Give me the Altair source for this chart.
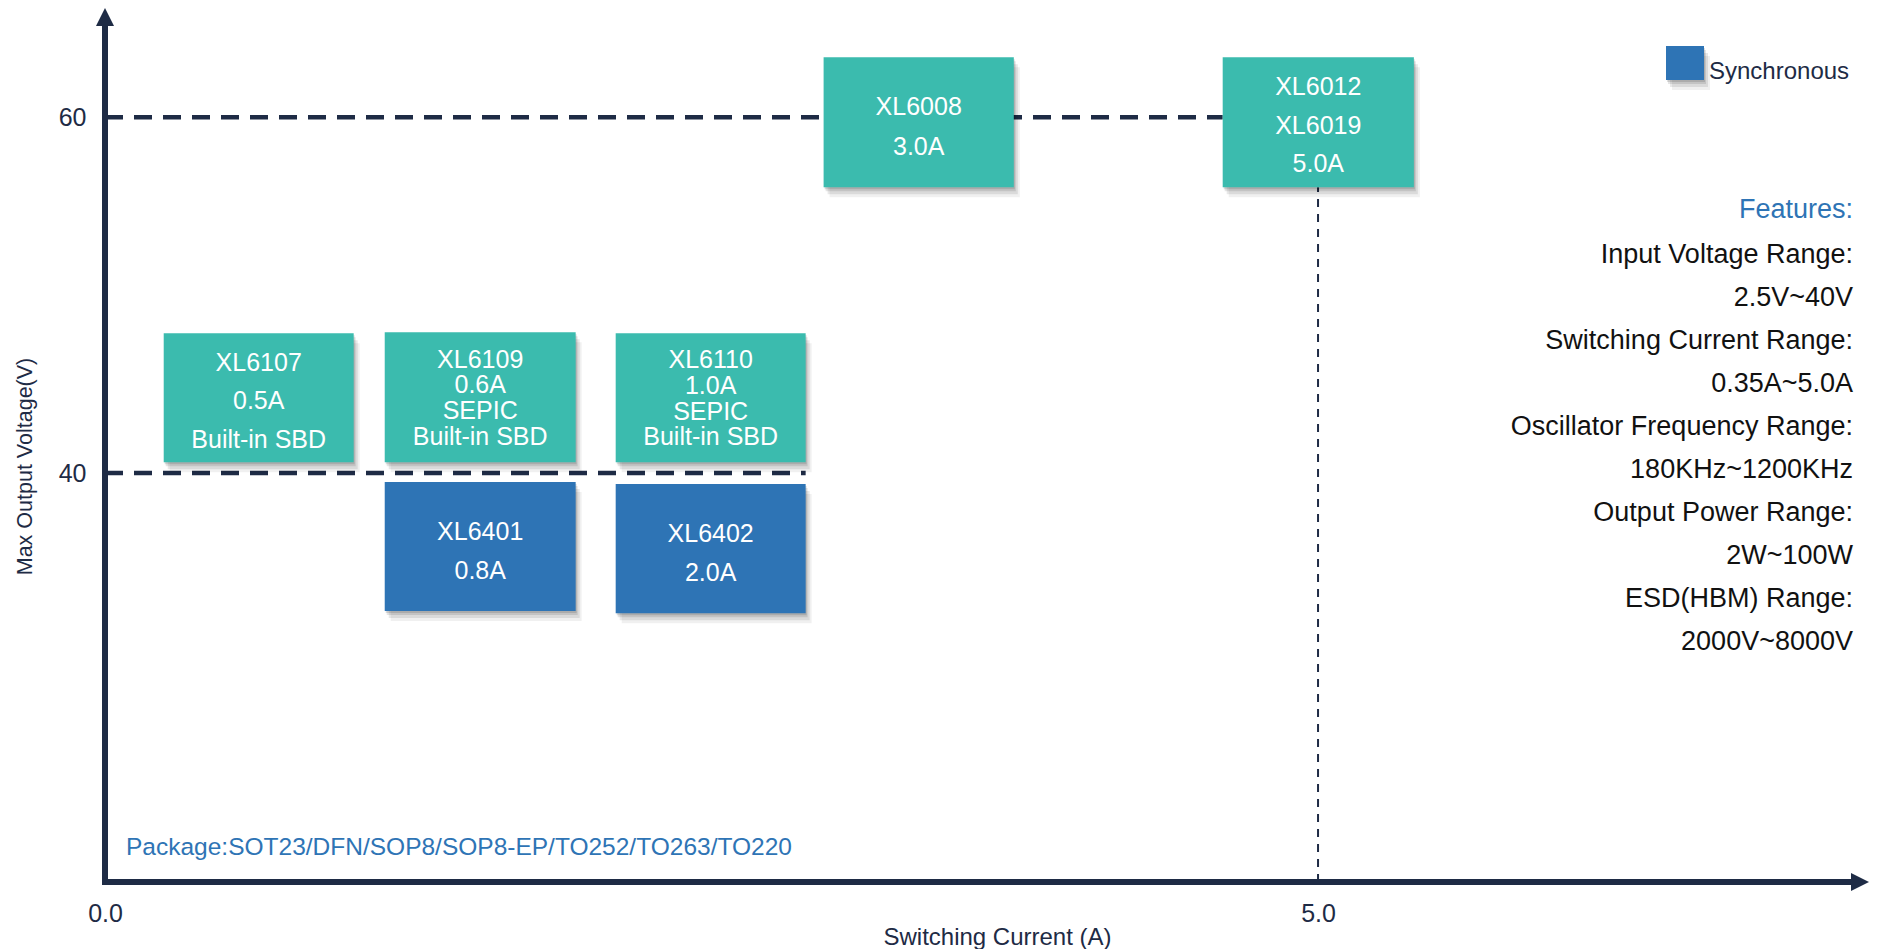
import altair as alt
import pandas as pd

FONT = "Liberation Sans"
DARK = "#1E2B45"
TEAL = "#3BBBAE"
BLUE = "#2E74B5"

# ---- data ----
chip_labels = [
    "XL6107\n0.5A\nBuilt-in SBD",
    "XL6109\n0.6A\nSEPIC\nBuilt-in SBD",
    "XL6110\n1.0A\nSEPIC\nBuilt-in SBD",
    "XL6401\n0.8A",
    "XL6402\n2.0A",
    "XL6008\n3.0A",
    "XL6012\nXL6019\n5.0A",
]
chip_kind = ["Non-synchronous", "Non-synchronous", "Non-synchronous",
             "Synchronous", "Synchronous", "Non-synchronous", "Non-synchronous"]
cur_lo = [0.242, 1.153, 2.105, 1.153, 2.105, 2.962, 4.607]
cur_hi = [1.025, 1.940, 2.888, 1.940, 2.888, 3.746, 5.395]
volt_lo = [40.61, 40.61, 40.61, 32.24, 32.12, 56.07, 56.07]
volt_hi = [47.86, 47.92, 47.86, 39.49, 39.38, 63.38, 63.38]

ref_volt = [60, 40]
ref_cur_end = [4.607, 2.888]
marker_cur = [5.0]
marker_volt_top = [56.07]

x_ticks = [0, 5]
y_ticks = [40, 60]
x_domain = [0, 7.271]
y_domain = [17, 66.15]

legend_kind = ["Synchronous"]

features_title = "Features:"
features = [
    "Input Voltage Range:", "2.5V~40V",
    "Switching Current Range:", "0.35A~5.0A",
    "Oscillator Frequency Range:", "180KHz~1200KHz",
    "Output Power Range:", "2W~100W",
    "ESD(HBM) Range:", "2000V~8000V",
]
package_note = "Package:SOT23/DFN/SOP8/SOP8-EP/TO252/TO263/TO220"

chips = pd.DataFrame({
    "label": chip_labels, "kind": chip_kind,
    "cur": cur_lo, "cur2": cur_hi, "volt": volt_lo, "volt2": volt_hi,
})
chips["nlines"] = chips["label"].str.count("\n") + 1
refs = pd.DataFrame({"volt": ref_volt, "cur": [0, 0], "cur2": ref_cur_end})
marker = pd.DataFrame({"cur": marker_cur, "volt": [y_domain[0]], "volt2": marker_volt_top})
xaxis_df = pd.DataFrame({"cur": [x_domain[0]], "cur2": [x_domain[1]], "volt": [y_domain[0]]})
yaxis_df = pd.DataFrame({"cur": [x_domain[0]], "volt": [y_domain[0]], "volt2": [y_domain[1]]})
xarrow_df = pd.DataFrame({"cur": [x_domain[1]], "volt": [y_domain[0]]})
yarrow_df = pd.DataFrame({"cur": [x_domain[0]], "volt": [y_domain[1]]})
legend_df = pd.DataFrame({"kind": legend_kind})

xs = alt.Scale(domain=x_domain, nice=False, zero=False)
ys = alt.Scale(domain=y_domain, nice=False, zero=False)
color_scale = alt.Scale(domain=["Non-synchronous", "Synchronous"], range=[TEAL, BLUE])

xaxis = alt.Axis(values=x_ticks, format=".1f", domain=False, ticks=False, grid=False,
                 labelFontSize=25, labelColor=DARK, labelFont=FONT, labelPadding=19,
                 labelFlush=False,
                 title="Switching Current (A)", titleFont=FONT, titleFontSize=24,
                 titleFontWeight="normal", titleColor=DARK, titleX=892, titleY=55,
                 titleAlign="center", titleBaseline="middle")
yaxis = alt.Axis(values=y_ticks, format="d", domain=False, ticks=False, grid=False,
                 labelFontSize=25, labelColor=DARK, labelFont=FONT, labelPadding=19,
                 labelFlush=False,
                 title="Max Output Voltage(V)", titleFont=FONT, titleFontSize=21.5,
                 titleFontWeight="normal", titleColor=DARK, titleX=-80, titleY=458,
                 titleAlign="center", titleBaseline="middle")

X = alt.X("cur:Q", scale=xs, axis=xaxis)
Y = alt.Y("volt:Q", scale=ys, axis=yaxis)

# dashed reference lines
ref_lines = alt.Chart(refs).mark_rule(color=DARK, strokeWidth=4.5, strokeDash=[18, 11]).encode(
    x=X, x2="cur2:Q", y=Y)
marker_line = alt.Chart(marker).mark_rule(color=DARK, strokeWidth=2, strokeDash=[8, 7]).encode(
    x=X, y=Y, y2="volt2:Q")

SHADOW_STEPS = [(1, 2, 0.12), (2, 4, 0.10), (4, 7, 0.09), (6, 10, 0.06)]

# shadows
shadows = []
for dx, dy, op in SHADOW_STEPS:
    shadows.append(alt.Chart(chips).mark_rect(
        color="#000000", opacity=op, xOffset=dx, x2Offset=dx, yOffset=dy, y2Offset=dy
    ).encode(x=X, x2="cur2:Q", y=Y, y2="volt2:Q"))

boxes = alt.Chart(chips).mark_rect().encode(
    x=X, x2="cur2:Q", y=Y, y2="volt2:Q",
    color=alt.Color("kind:N", scale=color_scale, legend=None),
)

# box labels, grouped by number of lines (line height / vertical centring)
TEXT_STYLE = {2: (39.5, -15), 3: (38.5, -35), 4: (25.7, -37.5)}
text_base = alt.Chart(chips).transform_calculate(
    xc="(datum.cur + datum.cur2) / 2", yc="(datum.volt + datum.volt2) / 2")
box_texts = []
for n, (lh, dyv) in TEXT_STYLE.items():
    box_texts.append(text_base.transform_filter(f"datum.nlines == {n}").mark_text(
        color="white", font=FONT, fontSize=25, lineBreak="\n", lineHeight=lh, dy=dyv,
        align="center", baseline="middle").encode(
        x=alt.X("xc:Q", scale=xs, axis=xaxis), y=alt.Y("yc:Q", scale=ys, axis=yaxis),
        text="label:N"))

# axes with arrows
x_line = alt.Chart(xaxis_df).mark_rule(color=DARK, strokeWidth=6, strokeCap="square", x2Offset=-16).encode(
    x=X, x2="cur2:Q", y=Y)
y_line = alt.Chart(yaxis_df).mark_rule(color=DARK, strokeWidth=6, strokeCap="square", y2Offset=16).encode(
    x=X, y=Y, y2="volt2:Q")
x_arrow = alt.Chart(xarrow_df).mark_point(shape="M0,0L-2,-1L-2,1Z", size=324, filled=True,
                                          color=DARK, opacity=1).encode(x=X, y=Y)
y_arrow = alt.Chart(yarrow_df).mark_point(shape="M0,0L-1,2L1,2Z", size=324, filled=True,
                                          color=DARK, opacity=1).encode(x=X, y=Y)

# legend (drawn by hand, colour from the shared scale)
legend_shadows = []
for dx, dy, op in SHADOW_STEPS:
    legend_shadows.append(alt.Chart(legend_df).mark_rect(
        color="#000000", opacity=op).encode(
        x=alt.value(1561 + dx), x2=alt.value(1599 + dx),
        y=alt.value(38 + dy), y2=alt.value(72 + dy)))
legend_swatch = alt.Chart(legend_df).mark_rect().encode(
    x=alt.value(1561), x2=alt.value(1599), y=alt.value(38), y2=alt.value(72),
    color=alt.Color("kind:N", scale=color_scale, legend=None))
legend_label = alt.Chart(legend_df).mark_text(
    font=FONT, fontSize=24, color=DARK, align="left", baseline="middle").encode(
    x=alt.value(1604), y=alt.value(63.5), text="kind:N")

# annotations
feat_head = alt.Chart(pd.DataFrame({"t": [features_title]})).mark_text(
    font=FONT, fontSize=27, color=BLUE, align="right", baseline="middle").encode(
    x=alt.value(1748), y=alt.value(201.5), text="t:N")
feat_body = alt.Chart(pd.DataFrame({"t": ["\n".join(features)]})).mark_text(
    font=FONT, fontSize=27, color="#111111", align="right", baseline="top",
    lineBreak="\n", lineHeight=43.1).encode(
    x=alt.value(1748), y=alt.value(233.5), text="t:N")
pkg = alt.Chart(pd.DataFrame({"t": [package_note]})).mark_text(
    font=FONT, fontSize=24.5, color=BLUE, align="left", baseline="middle").encode(
    x=alt.value(21), y=alt.value(839.5), text="t:N")

chart = alt.layer(
    ref_lines, marker_line, *shadows, boxes, *box_texts,
    x_line, y_line, x_arrow, y_arrow,
    *legend_shadows, legend_swatch, legend_label,
    feat_head, feat_body, pkg
).properties(
    width=1764, height=874,
    padding={"left": 97, "top": 0, "right": 0, "bottom": 67},
    autosize=alt.AutoSizeParams(type="none"),
    background="white",
).configure_view(stroke=None)

chart.save("out.html", embed_options={"renderer": "svg", "actions": False})
